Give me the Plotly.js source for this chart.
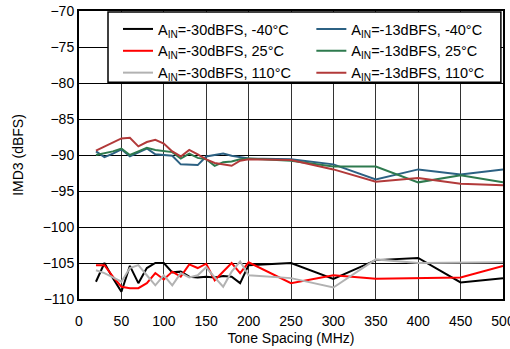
<!DOCTYPE html>
<html>
<head>
<meta charset="utf-8">
<script src="https://cdn.plot.ly/plotly-3.0.1.min.js"></script>
<style>html,body{margin:0;padding:0;background:#fff;}#chart{width:510px;height:349px;}</style>
</head>
<body>
<div id="chart"></div>
<script>
var toneSpacing = [20,30,40,50,60,70,80,90,100,110,120,130,140,150,160,170,180,190,200,250,300,350,400,450,500];

var a30_m40 = [-107.6,-105.0,-107.1,-109.0,-105.4,-107.8,-105.7,-105.0,-105.0,-106.3,-106.2,-106.9,-107.0,-106.9,-107.0,-106.8,-106.9,-107.8,-105.3,-105.0,-107.2,-104.6,-104.3,-107.7,-107.1];
var a30_25 = [-105.3,-105.3,-106.9,-108.3,-108.5,-108.5,-107.8,-106.4,-107.3,-106.2,-106.9,-105.2,-105.7,-105.1,-107.4,-106.2,-105.0,-106.4,-104.9,-107.8,-106.7,-107.2,-107.1,-107.0,-105.4];
var a30_110 = [-106.0,-106.4,-107.0,-107.6,-105.7,-105.3,-106.7,-108.1,-106.7,-108.1,-106.4,-107.0,-106.7,-105.6,-107.0,-108.3,-106.2,-104.8,-106.7,-107.1,-108.4,-104.5,-105.0,-104.9,-104.9];
var a13_m40 = [-89.5,-90.3,-89.8,-89.2,-90.2,-89.6,-89.1,-89.9,-90.0,-90.1,-91.3,-91.4,-91.4,-90.2,-90.0,-89.8,-90.1,-90.3,-90.5,-90.6,-91.3,-93.4,-92.0,-92.7,-92.0];
var a13_25 = [-90.0,-89.8,-89.5,-89.1,-90.0,-89.5,-89.0,-89.3,-89.4,-89.6,-90.5,-89.8,-90.4,-90.6,-91.5,-91.0,-90.9,-90.6,-90.5,-90.8,-91.6,-91.6,-93.8,-92.8,-93.8];
var a13_110 = [-89.4,-88.8,-88.2,-87.7,-87.6,-88.8,-88.2,-87.9,-88.4,-89.5,-90.2,-89.3,-89.9,-90.6,-91.1,-91.3,-91.5,-90.8,-90.6,-90.7,-92.0,-93.7,-93.2,-94.0,-94.2];

var seriesNames = [
  'A<sub>IN</sub>=-30dBFS, -40°C',
  'A<sub>IN</sub>=-30dBFS, 25°C',
  'A<sub>IN</sub>=-30dBFS, 110°C',
  'A<sub>IN</sub>=-13dBFS, -40°C',
  'A<sub>IN</sub>=-13dBFS, 25°C',
  'A<sub>IN</sub>=-13dBFS, 110°C'
];
var seriesData = [a30_m40, a30_25, a30_110, a13_m40, a13_25, a13_110];
var seriesColors = ['#000000', '#ff0000', '#b2b2b2', '#2c6183', '#2e7a4e', '#b23a3a'];
var seriesLegend = ['legend', 'legend', 'legend', 'legend2', 'legend2', 'legend2'];

var traces = seriesData.map(function(d, i) {
  return {x: toneSpacing, y: d, name: seriesNames[i], type: 'scatter', mode: 'lines',
          legend: seriesLegend[i],
          line: {color: seriesColors[i], width: 2}};
});

var font = {family: 'Liberation Sans, Arial, sans-serif', size: 14, color: '#000'};
var legFont = {family: 'Liberation Sans, Arial, sans-serif', size: 14.5, color: '#000'};
var layout = {
  width: 510, height: 349,
  margin: {l: 79, r: 7, t: 11, b: 50},
  paper_bgcolor: '#fff', plot_bgcolor: '#fff',
  font: font,
  showlegend: true,
  legend: {
    orientation: 'v', x: 0.092, y: 0.993, xanchor: 'left', yanchor: 'top',
    bgcolor: 'rgba(0,0,0,0)', borderwidth: 0, tracegroupgap: 0, font: legFont
  },
  legend2: {
    orientation: 'v', x: 0.548, y: 0.993, xanchor: 'left', yanchor: 'top',
    bgcolor: 'rgba(0,0,0,0)', borderwidth: 0, tracegroupgap: 0, font: legFont
  },
  shapes: [{
    type: 'rect', xref: 'paper', yref: 'paper',
    x0: 0.0684, x1: 0.995, y0: 0.753, y1: 0.9965,
    fillcolor: '#fff', line: {color: '#000', width: 1.5}, layer: 'above'
  }],
  xaxis: {
    range: [0, 500], tickvals: [0,50,100,150,200,250,300,350,400,450,500],
    showgrid: true, gridcolor: '#333', gridwidth: 1,
    showline: true, linecolor: '#000', linewidth: 2, mirror: true,
    ticks: 'outside', ticklen: 8, tickcolor: 'rgba(0,0,0,0)',
    ticklabeloverflow: 'allow', zeroline: false,
    title: {text: 'Tone Spacing (MHz)', font: font, standoff: 5}
  },
  yaxis: {
    range: [-110, -70], tickvals: [-110,-105,-100,-95,-90,-85,-80,-75,-70],
    showgrid: true, gridcolor: '#000', gridwidth: 1,
    showline: true, linecolor: '#000', linewidth: 2, mirror: true,
    ticks: '', zeroline: false,
    title: {text: 'IMD3 (dBFS)', font: font, standoff: 16}
  }
};

Plotly.newPlot('chart', traces, layout, {staticPlot: true});
</script>
</body>
</html>
